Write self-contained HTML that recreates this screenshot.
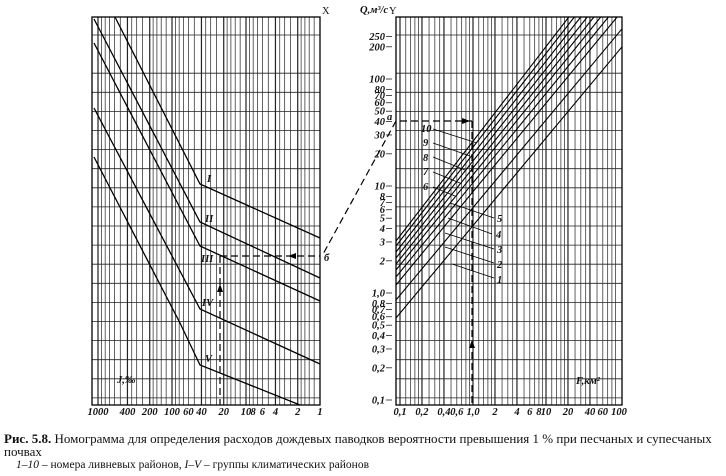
<!DOCTYPE html>
<html><head><meta charset="utf-8"><style>
body{margin:0;background:#fff;width:726px;height:476px;overflow:hidden}
svg{position:absolute;left:0;top:0}
.t{font-family:"Liberation Serif",serif;font-style:italic;font-weight:bold;font-size:10.5px;fill:#111}
.c{position:absolute;font-family:"Liberation Serif",serif;font-size:13px;color:#111;white-space:nowrap;line-height:13px}
</style></head><body>
<svg id="s" width="726" height="476" xmlns="http://www.w3.org/2000/svg">
<g id="grid" stroke="#222" stroke-width="0.8" fill="none"></g>
<g stroke="#000" stroke-width="1.3" fill="none">
<rect x="92" y="17" width="228" height="388"/>
<rect x="396" y="17" width="226" height="388"/>
<polyline points="115,17 200,184 320,238"/>
<polyline points="94,19 200,222 320,278"/>
<polyline points="94,43 200,246 320,301"/>
<polyline points="94,108 200,309 320,364"/>
<polyline points="94,157 180,323 200,365 300,405"/>
</g>
<g id="rl" stroke="#000" stroke-width="1.1" fill="none"></g>
<g stroke="#000" stroke-width="0.8">
<line x1="433" y1="129" x2="477" y2="143"/><line x1="433" y1="143" x2="470" y2="156"/>
<line x1="433" y1="157" x2="465" y2="170"/><line x1="433" y1="172" x2="460" y2="183"/>
<line x1="433" y1="187" x2="455" y2="196"/>
<line x1="494" y1="218" x2="450" y2="203"/><line x1="492" y1="234" x2="448" y2="218"/>
<line x1="494" y1="249" x2="445" y2="233"/><line x1="494" y1="263" x2="445" y2="247"/>
<line x1="494" y1="278" x2="452" y2="264"/>
</g>
<g stroke="#000" stroke-width="1.2" stroke-dasharray="7,4" fill="none">
<line x1="396" y1="121" x2="322" y2="256"/>
<line x1="400" y1="121" x2="472" y2="121"/>
<line x1="472" y1="121" x2="472" y2="405"/>
<line x1="220" y1="256" x2="320" y2="256"/>
<line x1="220" y1="256" x2="220" y2="405"/>
</g>
<g fill="#000"><polygon points="220,284 217,292 223,292"/><polygon points="288,256 296,253 296,259"/>
<polygon points="472,340 469,348 475,348"/><polygon points="470,121 462,118 462,124"/></g>
<g class="t">
<text x="207" y="182">I</text><text x="205" y="222">II</text><text x="201" y="262">III</text>
<text x="202" y="306">IV</text><text x="205" y="362">V</text>
<text x="324" y="261">б</text><text x="387" y="120">a</text>
<text x="322" y="14" font-style="normal" font-weight="normal">X</text>
<text x="389" y="14" font-style="normal" font-weight="normal">Y</text>
<text x="360" y="13">Q,м³/с</text>
<text x="117" y="383">J,‰</text><text x="576" y="384">F,км²</text>
<text x="421" y="132">10</text><text x="423" y="146">9</text><text x="423" y="161">8</text>
<text x="423" y="175">7</text><text x="423" y="190">6</text>
<text x="497" y="222">5</text><text x="496" y="238">4</text><text x="497" y="253">3</text>
<text x="497" y="268">2</text><text x="497" y="283">1</text>
</g>
<g id="lab" class="t"></g>
</svg>
<div class="c" style="left:4px;top:432px"><b>Рис. 5.8.</b> Номограмма для определения расходов дождевых паводков вероятности превышения 1 % при песчаных и супесчаных</div>
<div class="c" style="left:4px;top:445px">почвах</div>
<div class="c" style="left:16px;top:459px;font-size:11.5px"><i>1–10</i> – номера ливневых районов, <i>I–V</i> – группы климатических районов</div>
<script>
var ns="http://www.w3.org/2000/svg";
function L(g,x1,y1,x2,y2,w){var l=document.createElementNS(ns,"line");l.setAttribute("x1",x1);l.setAttribute("y1",y1);l.setAttribute("x2",x2);l.setAttribute("y2",y2);if(w)l.setAttribute("stroke-width",w);g.appendChild(l);}
function T(g,x,y,s,a){var t=document.createElementNS(ns,"text");t.setAttribute("x",x);t.setAttribute("y",y);if(a)t.setAttribute("text-anchor",a);t.textContent=s;g.appendChild(t);}
var g=document.getElementById("grid"),lab=document.getElementById("lab");
var m=[1,1.2,1.4,1.6,1.8,2,2.5,3,3.5,4,5,6,7,8,9];
for(var d=0;d<4;d++)m.forEach(function(v){var J=v*Math.pow(10,d);var x=320-74*Math.log10(J);if(x>92&&x<320)L(g,x,17,x,405,v==1||v==2||v==4?1.2:0.7);});
for(var d=-1;d<2;d++)m.forEach(function(v){var F=v*Math.pow(10,d);var x=400+73*(Math.log10(F)+1);if(x>396&&x<622)L(g,x,17,x,405,v==1||v==2||v==4?1.2:0.7);});
for(var k=0;k<20;k++){var y=35+19.1*k;if(k==1)continue;L(g,92,y,320,y);L(g,396,y,622,y);}
var rl=document.getElementById("rl");
[318,300,285,277,270,264,258,252,246,241].forEach(function(y0,i){var s=1.2+(i>1?0.012*(i-1):0);var x2=622,y2=y0-s*(x2-396);if(y2<17){x2=396+(y0-17)/s;y2=17;}L(rl,396,y0,x2,y2);});
[["1000",1000],["400",400],["200",200],["100",100],["60",60],["40",40],["20",20],["10",10],["8",8],["6",6],["4",4],["2",2],["1",1]].forEach(function(a){T(lab,320-74*Math.log10(a[1]),415,a[0],"middle");});
[["0,1",.1],["0,2",.2],["0,4",.4],["0,6",.6],["1,0",1],["2",2],["4",4],["6",6],["8",8],["10",10],["20",20],["40",40],["60",60],["100",100]].forEach(function(a){T(lab,400+73*(Math.log10(a[1])+1),415,a[0],"middle");});
[["250",250],["200",200],["100",100],["80",80],["70",70],["60",60],["50",50],["40",40],["30",30],["20",20],["10",10],["8",8],["7",7],["6",6],["5",5],["4",4],["3",3],["2",2],["1,0",1],["0,8",.8],["0,7",.7],["0,6",.6],["0,5",.5],["0,4",.4],["0,3",.3],["0,2",.2],["0,1",.1]].forEach(function(a){var y=293-107*Math.log10(a[1]);T(lab,385,y+3.5,a[0],"end");L(g,386,y,392,y);});
</script>
</body></html>
